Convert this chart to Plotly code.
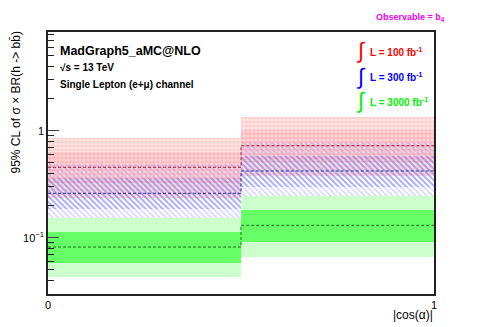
import plotly.graph_objects as go

# bins in |cos(alpha)|
bin_centers = [0.25, 0.75]
bin_widths = [0.5, 0.5]
bin_edges = [0.0, 0.5, 1.0]

# expected 95% CL limits (median, +-1 sigma, +-2 sigma) per luminosity
median_100 = [0.455, 0.724]
s1_lo_100 = [0.323, 0.514]
s1_hi_100 = [0.632, 1.006]
s2_lo_100 = [0.237, 0.376]
s2_hi_100 = [0.851, 1.354]

median_300 = [0.26, 0.42]
s1_lo_300 = [0.185, 0.298]
s1_hi_300 = [0.361, 0.584]
s2_lo_300 = [0.135, 0.218]
s2_hi_300 = [0.486, 0.785]

median_3000 = [0.0818, 0.1306]
s1_lo_3000 = [0.0584, 0.0918]
s1_hi_3000 = [0.114, 0.1815]
s2_lo_3000 = [0.0427, 0.0664]
s2_hi_3000 = [0.153, 0.245]

FONT = "Liberation Sans, Arial, sans-serif"


def band(lo, hi, pattern=None, color=None):
    """Box band drawn as bars from lo to hi."""
    marker = dict(line=dict(width=0))
    if pattern is not None:
        marker["color"] = "rgba(0,0,0,0)"
        marker["pattern"] = pattern
    else:
        marker["color"] = color
    return go.Bar(
        x=bin_centers,
        width=bin_widths,
        base=lo,
        y=[h - l for h, l in zip(hi, lo)],
        marker=marker,
        showlegend=False,
        hoverinfo="skip",
    )


def median_line(med, color):
    return go.Scatter(
        x=bin_edges,
        y=med + [med[-1]],
        mode="lines",
        line=dict(color=color, width=1, dash="3px,2px", shape="hv"),
        showlegend=False,
        hoverinfo="skip",
    )


fig = go.Figure()

# 100 fb-1 : red dotted pattern
fig.add_trace(band(s2_lo_100, s2_hi_100, pattern=dict(
    shape="+", fgcolor="rgba(255,110,110,0.6)", bgcolor="rgba(255,215,215,0.65)",
    size=4, solidity=0.35, fillmode="overlay")))
fig.add_trace(band(s1_lo_100, s1_hi_100, pattern=dict(
    shape="+", fgcolor="rgba(235,80,100,0.5)", bgcolor="rgba(255,195,200,0.4)",
    size=4, solidity=0.35, fillmode="overlay")))

# 300 fb-1 : blue hatching
fig.add_trace(band(s2_lo_300, s2_hi_300, pattern=dict(
    shape="\\", fgcolor="rgba(150,150,255,0.8)", bgcolor="rgba(0,0,0,0)",
    size=4, solidity=0.4, fillmode="overlay")))
fig.add_trace(band(s1_lo_300, s1_hi_300, pattern=dict(
    shape="\\", fgcolor="rgba(90,90,235,0.8)", bgcolor="rgba(0,0,0,0)",
    size=4, solidity=0.45, fillmode="overlay")))

# 3000 fb-1 : solid green
fig.add_trace(band(s2_lo_3000, s2_hi_3000, color="#ccffcc"))
fig.add_trace(band(s1_lo_3000, s1_hi_3000, color="#66ff66"))

fig.add_trace(median_line(median_100, "#a02040"))
fig.add_trace(median_line(median_300, "#2a2a9a"))
fig.add_trace(median_line(median_3000, "#1d6a1d"))

minor_vals = [m * 10 ** e for e in (-2, -1, 0) for m in range(2, 10)]

# page body has an 8px margin, so the figure is 8px smaller and margins shifted
fig.update_layout(
    width=475,
    height=319,
    margin=dict(l=40, r=49, t=24, b=33),
    paper_bgcolor="white",
    plot_bgcolor="white",
    barmode="overlay",
    bargap=0,
    font=dict(family=FONT, color="black", size=11),
    xaxis=dict(
        range=[0, 1],
        tickmode="array",
        tickvals=[0, 1],
        ticktext=["0", "1"],
        ticks="inside",
        ticklen=8,
        showgrid=False,
        zeroline=False,
        showline=True,
        mirror=True,
        linecolor="#222",
        linewidth=1.5,
        tickfont=dict(size=11),
    ),
    yaxis=dict(
        type="log",
        range=[-1.526, 0.922],
        tickmode="array",
        tickvals=[0.1, 1],
        ticktext=["10<sup>−1</sup>", "1"],
        ticks="inside",
        ticklen=11,
        showgrid=False,
        zeroline=False,
        showline=True,
        mirror=True,
        linecolor="#222",
        linewidth=1.5,
        tickfont=dict(size=11),
        minor=dict(tickmode="array", tickvals=minor_vals, ticks="inside",
                   ticklen=6, tickcolor="#222", showgrid=False),
    ),
)

ann = [
    dict(x=0.026, y=0.927, text="<b>MadGraph5_aMC@NLO</b>", size=12.5, color="black", xanchor="left"),
    dict(x=0.026, y=0.866, text="<b>√s = 13 TeV</b>", size=10, color="black", xanchor="left"),
    dict(x=0.026, y=0.798, text="<b>Single Lepton (e+μ) channel</b>", size=10, color="black", xanchor="left"),
    dict(x=0.829, y=0.925, text="<b>L = 100 fb<sup>-1</sup></b>", size=10, color="#ff0000", xanchor="left"),
    dict(x=0.829, y=0.828, text="<b>L = 300 fb<sup>-1</sup></b>", size=10, color="#0000ff", xanchor="left"),
    dict(x=0.829, y=0.734, text="<b>L = 3000 fb<sup>-1</sup></b>", size=10, color="#00ee00", xanchor="left"),
    dict(x=0.810, y=0.928, text="∫", size=22, color="#ff0000", xanchor="center"),
    dict(x=0.810, y=0.831, text="∫", size=22, color="#0000ff", xanchor="center"),
    dict(x=0.810, y=0.737, text="∫", size=22, color="#00ee00", xanchor="center"),
    dict(x=0.940, y=1.057, text="<b>Observable = b<sub>4</sub></b>", size=9, color="#ee00ee", xanchor="center"),
    dict(x=1.003, y=-0.080, text="|cos(α)|", size=12, color="black", xanchor="right"),
]
for a in ann:
    fig.add_annotation(
        x=a["x"], y=a["y"], xref="paper", yref="paper", text=a["text"],
        showarrow=False, xanchor=a["xanchor"], yanchor="middle",
        font=dict(family=FONT, size=a["size"], color=a["color"]),
    )

fig.add_annotation(
    x=-0.084, y=1.008, xref="paper", yref="paper",
    text="95% CL of σ × BR(h -> bb̄)", textangle=-90,
    showarrow=False, xanchor="center", yanchor="top",
    font=dict(family=FONT, size=12, color="black"),
)

fig.write_html("out.html")
